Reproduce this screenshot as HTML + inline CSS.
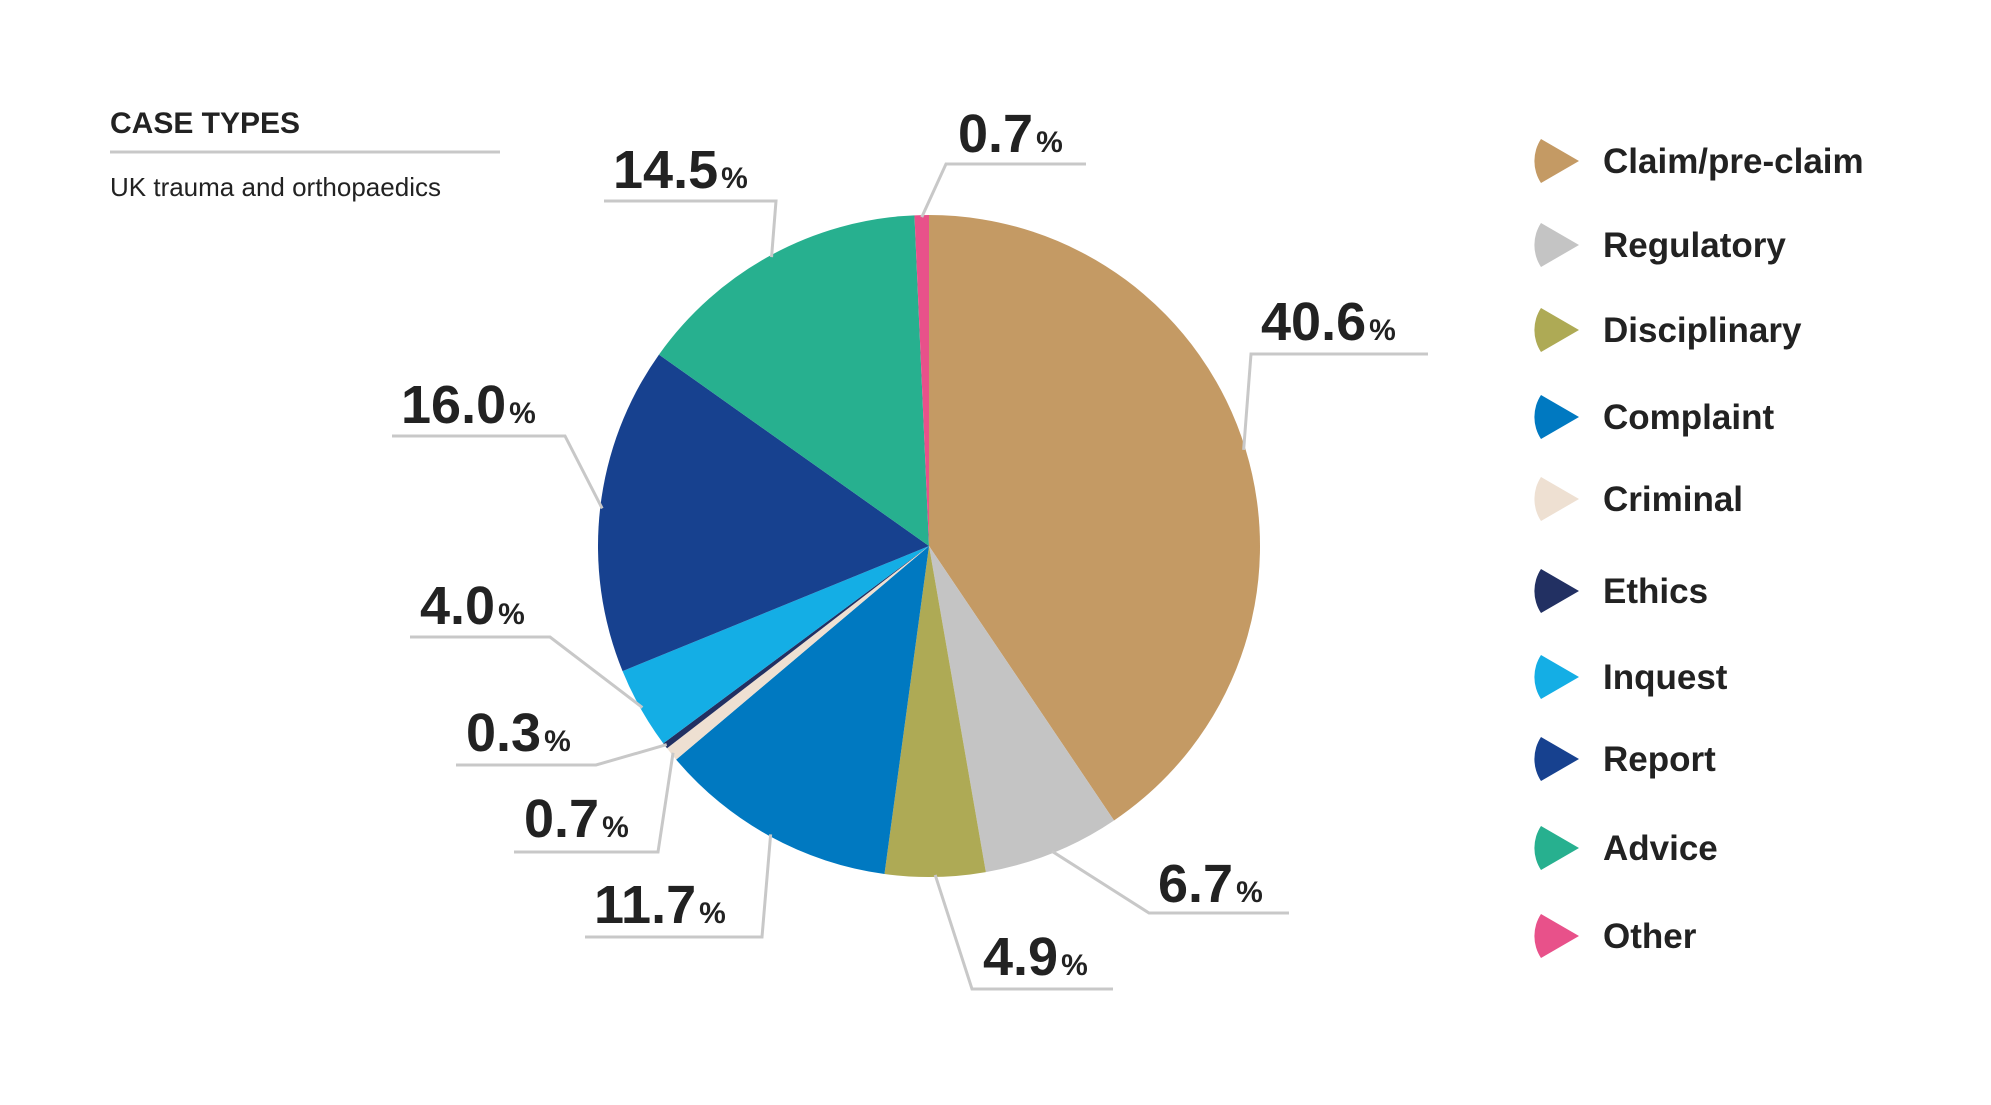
<!DOCTYPE html>
<html><head><meta charset="utf-8"><style>
html,body{margin:0;padding:0;background:#fff;}
svg{display:block;font-family:"Liberation Sans",sans-serif;}
</style></head><body>
<svg id="chart" width="1991" height="1105" viewBox="0 0 1991 1105" xmlns="http://www.w3.org/2000/svg">
<rect width="1991" height="1105" fill="#fff"/>
<text x="110" y="133" font-size="30" font-weight="bold" fill="#222">CASE TYPES</text>
<line x1="110" y1="152" x2="500" y2="152" stroke="#c8c8c8" stroke-width="3"/>
<text x="110" y="196" font-size="26" fill="#222">UK trauma and orthopaedics</text>
<g id="pie"></g>
<g id="labels"></g>
<g id="legend"></g>
</svg>
<script>
const categories = ["Claim/pre-claim","Regulatory","Disciplinary","Complaint","Criminal","Ethics","Inquest","Report","Advice","Other"];
const values = [40.6,6.7,4.9,11.7,0.7,0.3,4.0,16.0,14.5,0.7];
const valueLabels = ["40.6","6.7","4.9","11.7","0.7","0.3","4.0","16.0","14.5","0.7"];
const colors = ["#c49a64","#c4c4c4","#aeaa55","#0079c1","#eee0d2","#223062","#14aee5","#17418f","#27b08f","#e8518a"];
// label layout: [textX, baseline, lineY, lineX1, lineX2, elbowSide]
const labelLayout = [
 [1261,340,354,1251,1428,"L"],
 [1158,902,913,1149,1289,"L"],
 [983,975,989,972,1113,"L"],
 [594,923,937,585,762,"R"],
 [524,837,852,514,658,"R"],
 [466,751,765,456,596,"R"],
 [420,624,637,410,550,"R"],
 [401,423,436,392,565,"R"],
 [613,188,201,604,776,"R"],
 [958,152,164,946,1086,"L"]
];
const legendY = [161,245,330,417,499,591,677,759,848,936];
const NS="http://www.w3.org/2000/svg";
const cx=929, cy=546, r=331;
const total = values.reduce((a,b)=>a+b,0);
function pt(a,rr){return [cx+rr*Math.sin(a), cy-rr*Math.cos(a)];}
const pie=document.getElementById('pie'), labels=document.getElementById('labels'), legend=document.getElementById('legend');
let acc=0;
values.forEach((v,i)=>{
  const a0=acc/total*2*Math.PI; acc+=v; const a1=acc/total*2*Math.PI;
  const p0=pt(a0,r), p1=pt(a1,r);
  const large=(a1-a0)>Math.PI?1:0;
  const path=document.createElementNS(NS,'path');
  path.setAttribute('d',`M${cx},${cy} L${p0[0]},${p0[1]} A${r},${r} 0 ${large} 1 ${p1[0]},${p1[1]} Z`);
  path.setAttribute('fill',colors[i]);
  
  
  pie.appendChild(path);
  // leader
  const L=labelLayout[i]; const am=(a0+a1)/2; const pe=pt(am,r-2);
  const ex = L[5]==="L"?L[3]:L[4];
  const line=document.createElementNS(NS,'polyline');
  line.setAttribute('points',`${L[3]},${L[2]} ${L[4]},${L[2]} ${ex},${L[2]} ${pe[0]},${pe[1]}`);
  line.setAttribute('fill','none');line.setAttribute('stroke','#c8c8c8');line.setAttribute('stroke-width','3');
  
  
  labels.appendChild(line);
  const t=document.createElementNS(NS,'text');
  t.setAttribute('x',L[0]);t.setAttribute('y',L[1]);t.setAttribute('font-size','54');t.setAttribute('font-weight','bold');t.setAttribute('fill','#222');
  
  
  t.textContent=valueLabels[i];
  const ts=document.createElementNS(NS,'tspan');ts.setAttribute('font-size','30');ts.setAttribute('dx','3');ts.textContent='%';
  t.appendChild(ts);
  labels.appendChild(t);
  // legend
  const y=legendY[i];
  const g=document.createElementNS(NS,'g');
  
  
  const m=document.createElementNS(NS,'path');
  m.setAttribute('d',`M1579,${y} L1541,${y-22} A40,40 0 0 0 1541,${y+22} Z`);
  m.setAttribute('fill',colors[i]);
  
  
  g.appendChild(m);
  const lt=document.createElementNS(NS,'text');
  lt.setAttribute('x',1603);lt.setAttribute('y',y+12);lt.setAttribute('font-size','35');lt.setAttribute('font-weight','bold');lt.setAttribute('fill','#222');
  
  
  lt.textContent=categories[i];
  g.appendChild(lt);
  legend.appendChild(g);
});
</script>
</body></html>
